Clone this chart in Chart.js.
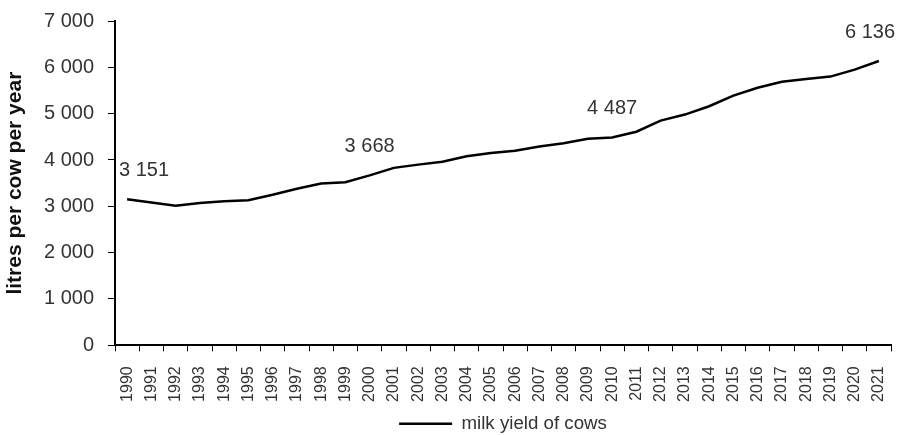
<!DOCTYPE html>
<html>
<head>
<meta charset="utf-8">
<script src="https://cdn.jsdelivr.net/npm/chart.js@4"></script>
<style>
  html, body { margin: 0; padding: 0; background: #fff; }
  #wrap { width: 899px; height: 435px; }
</style>
</head>
<body>
<div id="wrap"><canvas id="c" width="899" height="435"></canvas></div>
<script>
const years = ['1990','1991','1992','1993','1994','1995','1996','1997','1998','1999','2000','2001','2002','2003','2004','2005','2006','2007','2008','2009','2010','2011','2012','2013','2014','2015','2016','2017','2018','2019','2020','2021'];
const milkYield = [3151, 3080, 3010, 3070, 3110, 3130, 3250, 3380, 3490, 3520, 3668, 3830, 3900, 3960, 4080, 4150, 4200, 4290, 4360, 4460, 4487, 4610, 4850, 4980, 5160, 5390, 5560, 5690, 5750, 5800, 5950, 6136];
const labelledYears = ['1990', '2000', '2010', '2021'];
const seriesName = 'milk yield of cows';
const yTitle = 'litres per cow per year';

const fmt = v => String(v).replace(/\B(?=(\d{3})+(?!\d))/g, ' ');
const TXT = '#333333';
const SANS = '"Liberation Sans", Arial, sans-serif';

const valueLabels = {
  id: 'valueLabels',
  afterDatasetsDraw(chart) {
    const ctx = chart.ctx;
    const meta = chart.getDatasetMeta(0);
    const area = chart.chartArea;
    ctx.save();
    ctx.font = '20px ' + SANS;
    ctx.fillStyle = TXT;
    ctx.textAlign = 'left';
    ctx.textBaseline = 'alphabetic';
    years.forEach((yr, i) => {
      if (!labelledYears.includes(yr)) return;
      const pt = meta.data[i];
      const t = fmt(milkYield[i]);
      const w = ctx.measureText(t).width;
      let x = pt.x - w / 2;
      x = Math.max(x, area.left + 4);
      x = Math.min(x, chart.width - 4 - w);
      ctx.fillText(t, x, pt.y - 23);
    });
    ctx.restore();
  }
};

new Chart(document.getElementById('c'), {
  type: 'line',
  data: {
    labels: years,
    datasets: [{
      label: seriesName,
      data: milkYield,
      borderColor: '#000',
      backgroundColor: '#000',
      borderWidth: 2.5,
      pointRadius: 0,
      pointHoverRadius: 0,
      tension: 0,
      fill: false
    }]
  },
  options: {
    responsive: false,
    animation: false,
    events: [],
    layout: { padding: { left: 0, right: 8, top: 21, bottom: -8 } },
    plugins: {
      tooltip: { enabled: false },
      legend: {
        position: 'bottom',
        fullSize: false,
        labels: {
          usePointStyle: true,
          pointStyle: 'line',
          pointStyleWidth: 53,
          color: TXT,
          font: { family: SANS, size: 18.7 },
          padding: 0
        }
      }
    },
    scales: {
      x: {
        type: 'category',
        offset: true,
        grid: { display: true, offset: true, drawOnChartArea: false, drawTicks: true, tickLength: 6, color: '#000', lineWidth: 1 },
        border: { display: true, color: '#000', width: 2 },
        ticks: {
          color: TXT,
          font: { family: SANS, size: 16 },
          minRotation: 90,
          maxRotation: 90,
          autoSkip: false,
          padding: 15
        },
        afterFit(scale) { scale.height = 69; scale.paddingLeft = 0; scale.paddingRight = 0; }
      },
      y: {
        min: 0,
        max: 7000,
        grid: { display: true, drawOnChartArea: false, drawTicks: true, tickLength: 7, color: '#000', lineWidth: 1 },
        border: { display: true, color: '#000', width: 2 },
        ticks: {
          stepSize: 1000,
          color: TXT,
          font: { family: SANS, size: 20 },
          padding: 14,
          callback: v => fmt(v)
        },
        title: {
          display: true,
          text: yTitle,
          color: '#111',
          font: { family: SANS, size: 21, weight: 'bold' },
          padding: { top: 3, bottom: 0 }
        },
        afterFit(scale) { scale.width = 115; scale.paddingTop = 0; scale.paddingBottom = 0; }
      }
    }
  },
  plugins: [valueLabels]
});
</script>
</body>
</html>
